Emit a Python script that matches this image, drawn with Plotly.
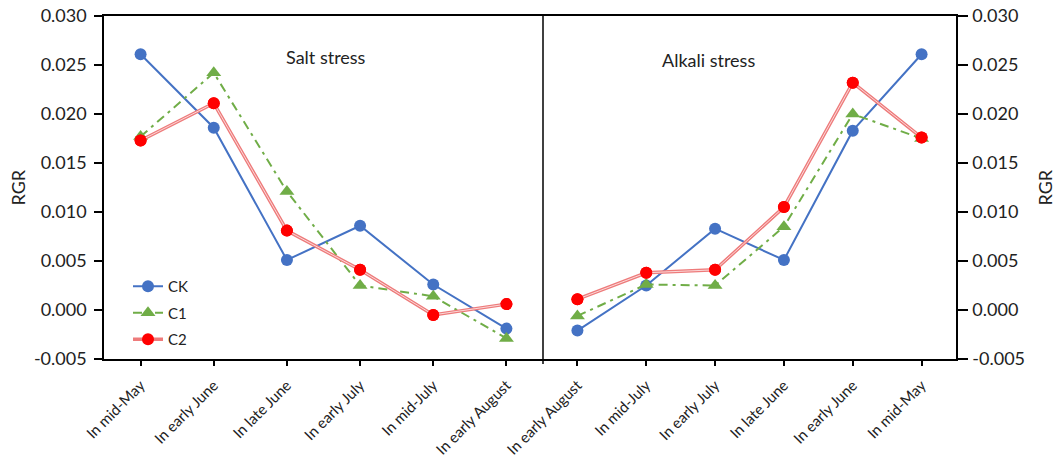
import plotly.graph_objects as go

# ---------------- data ----------------
salt_categories = ["In mid-May", "In early June", "In late June", "In early July", "In mid-July", "In early August"]
alkali_categories = ["In early August", "In mid-July", "In early July", "In late June", "In early June", "In mid-May"]

salt_ck = [0.0261, 0.0186, 0.0051, 0.0086, 0.0026, -0.0019]
salt_c1 = [0.0177, 0.0242, 0.0121, 0.0025, 0.0014, -0.0029]
salt_c2 = [0.0173, 0.0211, 0.0081, 0.0041, -0.0005, 0.0006]

alkali_ck = [-0.0021, 0.0025, 0.0083, 0.0051, 0.0183, 0.0261]
alkali_c1 = [-0.0006, 0.0026, 0.0025, 0.0085, 0.0200, 0.0175]
alkali_c2 = [0.0011, 0.0038, 0.0041, 0.0105, 0.0232, 0.0176]

y_tickvals = [-0.005, 0.000, 0.005, 0.010, 0.015, 0.020, 0.025, 0.030]
y_ticktext = ["-0.005", "0.000", "0.005", "0.010", "0.015", "0.020", "0.025", "0.030"]

# ---------------- style ----------------
FONT = "Lato"
TXT = "#222222"
BLUE = "#4472C4"
GREEN = "#70AD47"
RED = "#FF0000"
RED_LINE = "#EE7B7B"
RED_INNER = "#FBD9D9"

W, H = 1055, 461
PL, PR, PT, PB = 104, 956, 16, 359   # plot box in page pixels
L, T, R, B = PL, PT, W - PR, H - PB
PW = PR - PL
PH = PB - PT
split = (543 - PL) / PW

def px(xp):
    return (xp - PL) / PW

def py(yp):
    return (PB - yp) / PH

fig = go.Figure()

def add_panel(cats, ck, c1, c2, xa, ya, show):
    fig.add_trace(go.Scatter(x=cats, y=ck, name="CK", mode="lines+markers",
                             line=dict(color=BLUE, width=2),
                             marker=dict(symbol="circle", size=12, color=BLUE),
                             xaxis=xa, yaxis=ya, showlegend=show, legendgroup="ck"))
    fig.add_trace(go.Scatter(x=cats, y=c1, name="C1", mode="lines+markers",
                             line=dict(color=GREEN, width=2, dash="9px,5px,3px,5px"),
                             marker=dict(symbol="triangle-up", size=13, color=GREEN),
                             xaxis=xa, yaxis=ya, showlegend=show, legendgroup="c1"))
    fig.add_trace(go.Scatter(x=cats, y=c2, name="C2", mode="lines+markers",
                             line=dict(color=RED_LINE, width=3.5),
                             marker=dict(symbol="circle", size=12, color=RED),
                             xaxis=xa, yaxis=ya, showlegend=show, legendgroup="c2"))
    fig.add_trace(go.Scatter(x=cats, y=c2, mode="lines",
                             line=dict(color=RED_INNER, width=1),
                             xaxis=xa, yaxis=ya, showlegend=False, hoverinfo="skip"))
    fig.add_trace(go.Scatter(x=cats, y=c2, mode="markers",
                             marker=dict(symbol="circle", size=12, color=RED),
                             xaxis=xa, yaxis=ya, showlegend=False))

add_panel(salt_categories, salt_ck, salt_c1, salt_c2, "x", "y", True)
add_panel(alkali_categories, alkali_ck, alkali_c1, alkali_c2, "x2", "y2", False)

axis_common = dict(showgrid=False, zeroline=False, showline=True, linecolor="black", linewidth=1.5,
                   ticks="outside", tickcolor="black", tickwidth=1.5, automargin=False)

xfont = dict(family=FONT, size=15, color=TXT)
yfont = dict(family=FONT, size=18, color=TXT)

fig.update_layout(
    width=W, height=H,
    margin=dict(l=L, r=R, t=T, b=B, autoexpand=False),
    paper_bgcolor="white", plot_bgcolor="white",
    font=dict(family=FONT, color=TXT),
    xaxis=dict(domain=[0, split], range=[-0.5, 5.5], tickangle=-45, ticklen=5, mirror=True,
               type="category", anchor="y", tickfont=xfont, ticklabelstandoff=5, **axis_common),
    xaxis2=dict(domain=[split, 1], range=[-0.5, 5.5], tickangle=-45, ticklen=5, mirror=True,
                type="category", anchor="y2", tickfont=xfont, ticklabelstandoff=5, **axis_common),
    yaxis=dict(domain=[0, 1], range=[-0.005, 0.030], tickvals=y_tickvals, ticktext=y_ticktext,
               ticklen=8, anchor="x", side="left", tickfont=yfont, ticklabelstandoff=4,
               **axis_common),
    yaxis2=dict(domain=[0, 1], range=[-0.005, 0.030], tickvals=y_tickvals, ticktext=y_ticktext,
                ticklen=10, anchor="x2", side="right", tickfont=yfont, ticklabelstandoff=1,
                **axis_common),
    legend=dict(x=px(128), y=py(270), xanchor="left", yanchor="top",
                bgcolor="rgba(0,0,0,0)", font=dict(family=FONT, size=15, color=TXT),
                tracegroupgap=4, traceorder="grouped"),
    showlegend=True,
    shapes=[
        dict(type="line", xref="paper", yref="paper", x0=split, x1=split, y0=-5 / PH, y1=1,
             line=dict(color="black", width=1.5)),
    ],
    annotations=[
        dict(text="Salt stress", xref="paper", yref="paper", x=px(326), y=py(57),
             xanchor="center", yanchor="middle",
             showarrow=False, font=dict(family=FONT, size=18, color=TXT)),
        dict(text="Alkali stress", xref="paper", yref="paper", x=px(708), y=py(60),
             xanchor="center", yanchor="middle",
             showarrow=False, font=dict(family=FONT, size=18, color=TXT)),
        dict(text="RGR", xref="paper", yref="paper", x=px(17), y=0.5, textangle=-90,
             xanchor="center", yanchor="middle",
             showarrow=False, font=dict(family=FONT, size=18, color=TXT)),
        dict(text="RGR", xref="paper", yref="paper", x=px(1044), y=0.5, textangle=-90,
             xanchor="center", yanchor="middle",
             showarrow=False, font=dict(family=FONT, size=18, color=TXT)),
    ],
)

fig.write_html("out.html", config={"displayModeBar": False},
               post_script="document.body.style.margin='0';document.body.style.overflow='hidden';")
